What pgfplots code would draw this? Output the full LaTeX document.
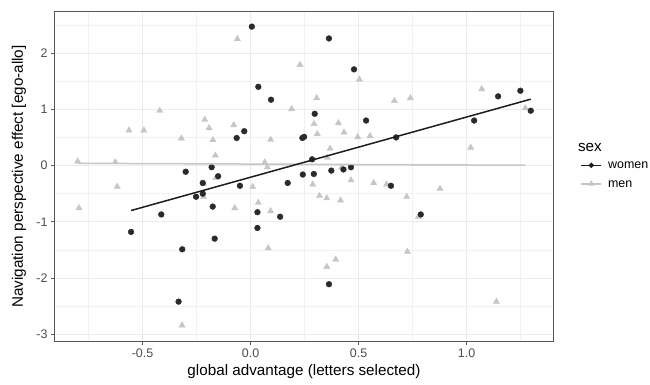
\documentclass[border=0pt]{standalone}
\usepackage{pgfplots}
\pgfplotsset{compat=1.18}
\usepackage{fontspec}
\setmainfont{Liberation Sans}
\definecolor{wcol}{HTML}{2A2A2A}
\definecolor{mcol}{HTML}{C6C6C6}
\definecolor{gridc}{HTML}{EBEBEB}
\definecolor{txtc}{HTML}{4D4D4D}
\definecolor{framec}{HTML}{555555}
\begin{document}
\begin{tikzpicture}
\path[use as bounding box] (-55bp,-44bp) rectangle (595bp,341bp);
\begin{axis}[
  at={(0,0)}, anchor=south west,
  scale only axis, width=498bp, height=329bp,
  clip mode=individual,
  xmin=-0.905, xmax=1.40, ymin=-3.12, ymax=2.73,
  xtick={-0.5,0,0.5,1}, xticklabels={-0.5,0.0,0.5,1.0},
  ytick={-3,-2,-1,0,1,2}, yticklabels={-3,-2,-1,0,1,2},
  minor xtick={-0.75,-0.25,0.25,0.75,1.25},
  minor ytick={-2.5,-1.5,-0.5,0.5,1.5,2.5},
  grid=both,
  major grid style={draw=gridc, line width=0.9bp},
  minor grid style={draw=gridc!70, line width=0.6bp},
  axis line style={draw=framec, line width=1bp},
  tick align=outside, major tick length=4bp, minor tick length=0pt,
  tick style={draw=framec, line width=0.8bp},
  xtick pos=left, ytick pos=left,
  ticklabel style={font=\fontsize{12.5}{15}\selectfont, text=txtc},
  xlabel={global advantage (letters selected)},
  ylabel={Navigation perspective effect [ego-allo]},
  label style={font=\fontsize{15.3}{18}\selectfont},
  xlabel style={at={(axis description cs:0.5,-0.094)}, anchor=center},
  ylabel style={at={(axis description cs:-0.0725,0.5)}, anchor=center},
  legend style={draw=none, fill=none, at={(axis description cs:1.049,0.506)}, anchor=west,
    font=\fontsize{12.5}{15}\selectfont, row sep=5bp,
    nodes={inner sep=1bp, text height=9bp, text depth=2.5bp},
    /tikz/every odd column/.append style={column sep=5bp}},
  legend cell align=left,
  legend image code/.code={\draw[mark repeat=2,mark phase=2,#1] plot coordinates {(0bp,0bp)(10bp,0bp)(20bp,0bp)};},
]
% men points
\addplot[only marks, mark=triangle*, mark size=3.6bp, mcol, mark options={draw=none, fill=mcol}, forget plot] coordinates {
(-0.061,2.25) (0.229,1.79) (-0.42,0.975) (0.19,1.005) (-0.5625,0.626) (-0.494,0.626)
(-0.212,0.815) (-0.192,0.667) (-0.078,0.72) (-0.32,0.484) (-0.174,0.454) (0.093,0.46)
(-0.163,0.18) (-0.80,0.075) (-0.626,0.06) (0.066,0.057) (0.078,-0.03) (0.504,1.53)
(0.306,1.20) (0.666,1.15) (0.74,1.20) (1.07,1.36) (1.272,1.02) (0.294,0.74)
(0.407,0.756) (0.309,0.56) (0.433,0.59) (0.496,0.507) (0.553,0.525) (0.368,0.30)
(0.356,0.14) (1.019,0.32) (0.422,-0.03) (-0.617,-0.377) (-0.794,-0.756) (-0.218,-0.555)
(-0.218,-0.32) (-0.16,-0.22) (-0.073,-0.756) (0.01,-0.38) (0.036,-0.66) (0.093,-0.81)
(0.082,-1.47) (-0.317,-2.84) (0.288,-0.335) (0.465,-0.26) (0.57,-0.31) (0.63,-0.335)
(0.877,-0.41) (0.319,-0.54) (0.353,-0.58) (0.417,-0.62) (0.723,-0.555) (0.777,-0.91)
(0.726,-1.53) (0.394,-1.67) (0.353,-1.80) (1.138,-2.42)
};
% women points
\addplot[only marks, mark=*, mark size=2.9bp, wcol, mark options={draw=none, fill=wcol}, forget plot] coordinates {
(0.006,2.47) (0.036,1.40) (0.095,1.17) (-0.029,0.61) (-0.064,0.49) (0.24,0.49)
(0.248,0.51) (-0.30,-0.11) (-0.18,-0.03) (-0.15,-0.19) (0.363,2.26) (0.479,1.71)
(0.297,0.92) (0.535,0.80) (0.674,0.50) (0.285,0.11) (1.035,0.80) (1.146,1.23)
(1.249,1.33) (1.297,0.975) (0.242,-0.16) (0.293,-0.15) (0.374,-0.09) (0.43,-0.07)
(0.465,-0.03) (-0.221,-0.31) (-0.049,-0.36) (0.172,-0.31) (-0.252,-0.555) (-0.221,-0.50)
(-0.175,-0.73) (-0.413,-0.87) (0.032,-0.83) (0.137,-0.91) (-0.553,-1.18) (0.032,-1.11)
(-0.166,-1.30) (-0.316,-1.49) (-0.333,-2.42) (0.65,-0.36) (0.788,-0.87) (0.363,-2.11)
};
% regression lines
\addplot[mcol, line width=1.5bp, no marks, forget plot] coordinates {(-0.80,0.04) (1.272,0.005)};
\addplot[wcol!70!black, line width=1.5bp, no marks, forget plot] coordinates {(-0.553,-0.80) (1.297,1.18)};
% legend
\addlegendimage{wcol!70!black, line width=1.5bp, mark=*, mark size=1.8bp, mark options={fill=wcol, draw=none}}
\addlegendentry{women}
\addlegendimage{mcol, line width=1.5bp, mark=triangle*, mark size=2.2bp, mark options={fill=mcol, draw=none}}
\addlegendentry{men}
\node[anchor=west, font=\fontsize{15.3}{18}\selectfont, inner sep=0] at (axis description cs:1.05,0.587) {sex};
\end{axis}
\end{tikzpicture}
\end{document}
